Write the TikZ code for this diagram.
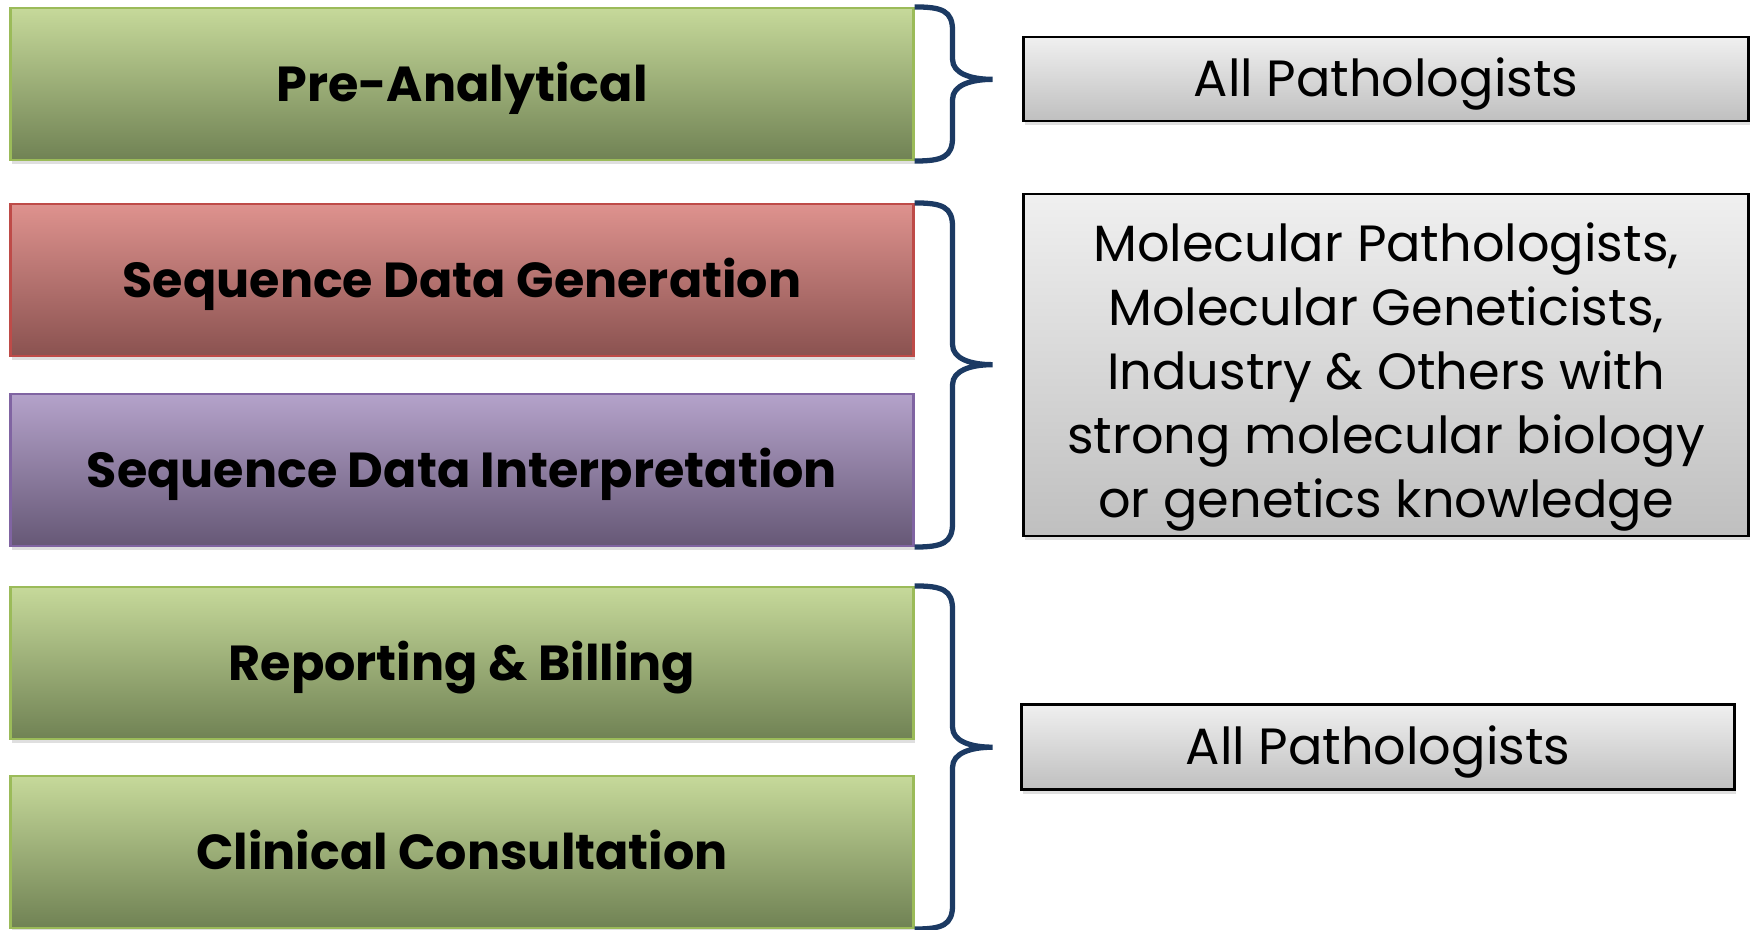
\documentclass[tikz,border=0pt]{standalone}
\usepackage{fontspec}
\setmainfont{Poppins}
\usetikzlibrary{calc}
\usetikzlibrary{shadows}
\definecolor{greentop}{RGB}{198,217,154}
\definecolor{greenbot}{RGB}{112,130,84}
\definecolor{greenline}{RGB}{155,187,89}
\definecolor{redtop}{RGB}{222,146,142}
\definecolor{redbot}{RGB}{138,82,80}
\definecolor{redline}{RGB}{190,75,72}
\definecolor{purptop}{RGB}{180,162,202}
\definecolor{purpbot}{RGB}{102,88,118}
\definecolor{purpline}{RGB}{128,100,162}
\definecolor{braceblue}{RGB}{28,58,99}

\begin{document}
\begin{tikzpicture}[x=0.1mm,y=-0.1mm,
    stage/.style={draw,line width=0.6pt,minimum width=90.3mm,minimum height=15.2mm,
      font=\fontsize{14}{16}\selectfont\bfseries,text height=9.8pt,text depth=0pt,
      drop shadow={opacity=0.25,shadow xshift=0.4pt,shadow yshift=-1.2pt}},
    greenstage/.style={stage,draw=greenline,top color=greentop,bottom color=greenbot},
    who/.style={draw=black,line width=0.6pt,top color=black!6,bottom color=black!25,
      minimum width=72.5mm,align=center,font=\fontsize{14.5}{18.2}\selectfont,
      drop shadow={opacity=0.25,shadow xshift=0.4pt,shadow yshift=-1.2pt}},
    grp/.style={draw=braceblue,line width=1.5pt}]
  \useasboundingbox (0,0) rectangle (1756,930);
  %% workflow stages
  \node[greenstage] (pre) at (462,84) {Pre-Analytical};
  \node[stage,draw=redline,top color=redtop,bottom color=redbot] (gen) at (462,280)
       {Sequence Data Generation};
  \node[stage,draw=purpline,top color=purptop,bottom color=purpbot] (interp) at (462,470)
       {Sequence Data Interpretation};
  \node[greenstage] (rep) at (462,663) {Reporting \& Billing};
  \node[greenstage] (cons) at (462,852) {Clinical Consultation};
  %% braces
  \foreach \first/\last in {pre/pre,gen/interp,rep/cons}{
    \coordinate (tip) at ($(\first.north east)!.47!(\last.south east)$);
    \draw[grp] (\first.north east) .. controls +(28,0) and +(0,-20) .. ($(\first.north east)+(38,24)$)
      -- ($(tip)+(38,-20)$) .. controls +(0,14) and +(-22,0) .. ($(tip)+(78,0)$)
      .. controls +(-22,0) and +(0,-14) .. ($(tip)+(38,20)$)
      -- ($(\last.south east)+(38,-24)$) .. controls +(0,20) and +(28,0) .. (\last.south east);
  }
  %% who does it
  \node[who,minimum height=8.4mm,text height=10.1pt,text depth=0pt] (all1) at (1386,79)
       {All Pathologists};
  \node[who,minimum height=34.2mm] (mol) at (1386,365) {};
  \node[align=center,font=\fontsize{14.5}{18.2}\selectfont] (moltext) at ([yshift=-1.2mm]mol.center)
       {Molecular Pathologists,\\ Molecular Geneticists,\\ Industry \& Others with\\
        strong molecular biology\\ or genetics knowledge};
  \node[who,minimum height=8.5mm,minimum width=71.3mm,text height=10.1pt,text depth=0pt] (all2)
       at (1378,747) {All Pathologists};
\end{tikzpicture}
\end{document}
